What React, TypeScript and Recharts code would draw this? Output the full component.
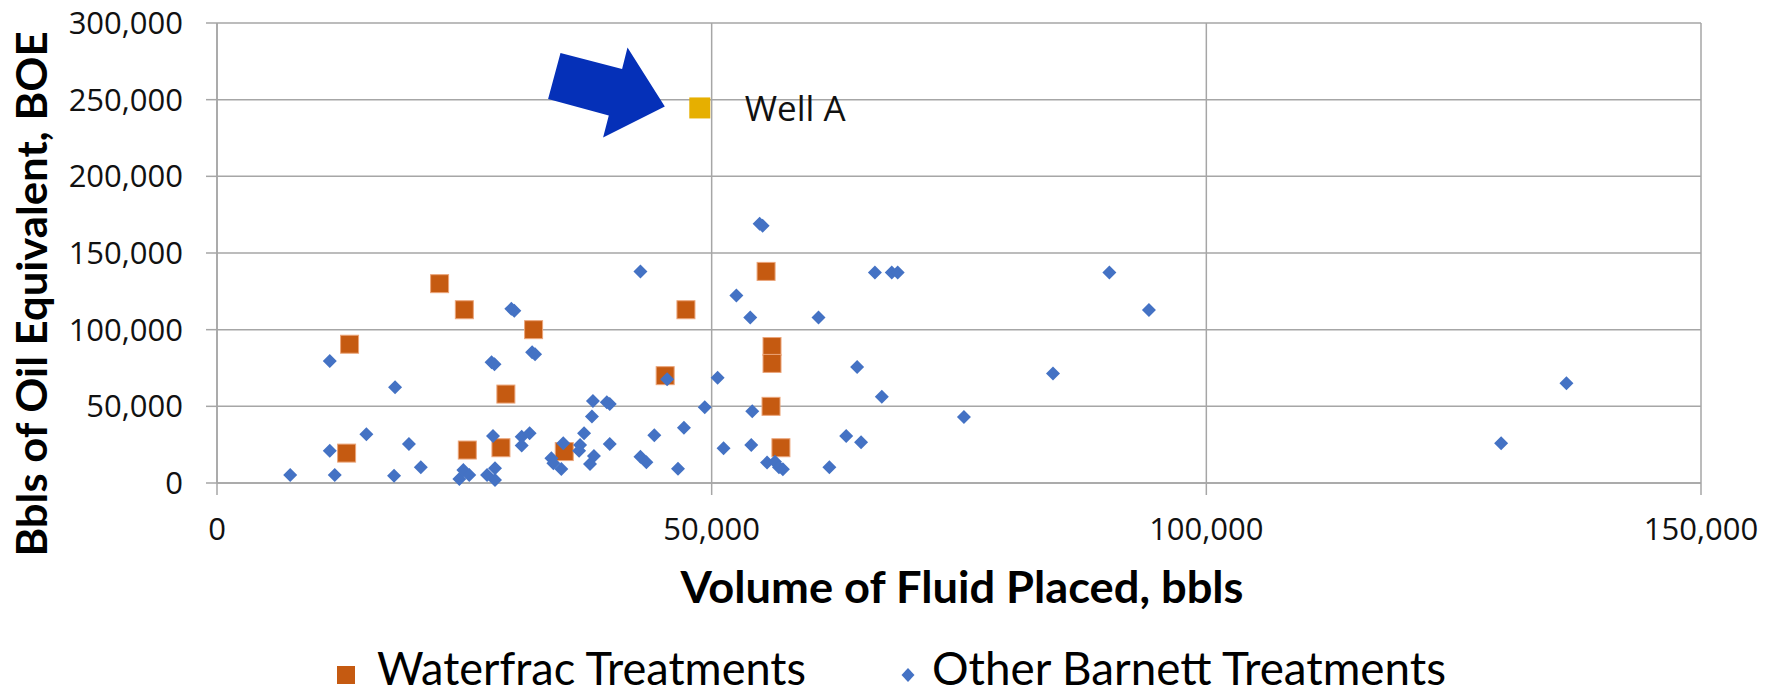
import React from "react"
import {
  ScatterChart,
  Scatter,
  XAxis,
  YAxis,
  CartesianGrid,
  Legend,
} from "recharts"

// values: [fluid volume bbls, BOE]
const waterfrac: [number, number][] = [
  [13400, 90500], [13100, 19500], [22500, 130000], [25000, 113000],
  [25300, 21500], [32000, 100000], [29200, 58000], [28700, 23000],
  [35100, 20500], [45300, 70000], [47400, 113000], [55500, 138000],
  [56100, 89000], [56100, 78000], [56000, 50000], [57000, 23000],
]

const otherBarnett: [number, number][] = [
  [7400, 5200], [11400, 79600], [11400, 21000], [11900, 5200],
  [15100, 31800], [18000, 62500], [17900, 4800], [19400, 25500],
  [20600, 10200], [24500, 2600], [24900, 8500], [25500, 5200],
  [27300, 5200], [28100, 9600], [28100, 2000], [27900, 30700],
  [27750, 78800], [28050, 77500], [29750, 113600], [30050, 112300],
  [31850, 85300], [32150, 84000], [30800, 30200], [31600, 32400],
  [30800, 24400], [33800, 16100], [34000, 12800], [34800, 9100],
  [35000, 25900], [36700, 24800], [36600, 21100], [37100, 32400],
  [38000, 53500], [37900, 43300], [38100, 17600], [37700, 12400],
  [39400, 52700], [39700, 51600], [39700, 25500], [42800, 138000],
  [42800, 17200], [43400, 13500], [44200, 31100], [45500, 67700],
  [47200, 36100], [46600, 9300], [49300, 49400], [50600, 68700],
  [51200, 22600], [54850, 169000], [55150, 167700], [52500, 122300],
  [53900, 107900], [60800, 107900], [66500, 137300], [68200, 137300],
  [68800, 137300], [90200, 137300], [94200, 112900], [64700, 75700],
  [84500, 71400], [67200, 56300], [54100, 46800], [75500, 43100],
  [54000, 24800], [63600, 30700], [65100, 26600], [55600, 13300],
  [56400, 13900], [56800, 10200], [57200, 8900], [61900, 10200],
  [136400, 65100], [129800, 25900],
]

const wellA: [number, number][] = [[48800, 244600]]

const xTicks = [0, 50000, 100000, 150000]
const yTicks = [0, 50000, 100000, 150000, 200000, 250000, 300000]

const toRows = (pts: [number, number][]) => pts.map(([x, y]) => ({ x, y }))

const ORANGE = "#C55A11"
const BLUE = "#4472C4"
const GOLD = "#E6AF00"
const GRID = "#a6a6a6"
const fmt = (v: number) => v.toLocaleString("en-US")

const SquareShape = (props: any) => {
  const { cx, cy } = props
  if (cx == null || cy == null) return null
  return (
    <rect x={cx - 9} y={cy - 9} width={18} height={18} fill={ORANGE} stroke="#EBA57A" strokeWidth={1} />
  )
}

const DiamondShape = (props: any) => {
  const { cx, cy } = props
  if (cx == null || cy == null) return null
  const r = 7
  return (
    <polygon
      points={`${cx},${cy - r} ${cx + r},${cy} ${cx},${cy + r} ${cx - r},${cy}`}
      fill={BLUE}
    />
  )
}

const WellAShape = (props: any) => {
  const { cx, cy } = props
  if (cx == null || cy == null) return null
  const arrow = [
    [-139.3, -54.9], [-77.7, -38.9], [-72.3, -60.5], [-35, -1.5],
    [-96.7, 29.5], [-91, 7.5], [-151.7, -8.9],
  ]
    .map(([dx, dy]) => `${cx + dx},${cy + dy}`)
    .join(" ")
  return (
    <g>
      <polygon points={arrow} fill="#0530B8" />
      <rect x={cx - 10.5} y={cy - 10.5} width={21} height={21} fill={GOLD} />
      <text x={cx + 45} y={cy + 13.5} fontFamily="Open Sans" fontSize={35} fill="#111">
        Well A
      </text>
    </g>
  )
}

const XTitle = (props: any) => {
  const vb = props.viewBox || {}
  return (
    <text
      x={vb.x + vb.width / 2 + 3}
      y={vb.y + 120}
      textAnchor="middle"
      fontFamily="Lato"
      fontWeight="bold"
      fontSize={44}
      textLength={563}
      lengthAdjust="spacingAndGlyphs"
      fill="#000"
    >
      Volume of Fluid Placed, bbls
    </text>
  )
}

const YTitle = (props: any) => {
  const vb = props.viewBox || {}
  const x = vb.x + 47
  const y = vb.y + vb.height / 2 + 41
  return (
    <text
      x={x}
      y={y}
      transform={`rotate(-90, ${x}, ${y})`}
      textAnchor="middle"
      fontFamily="Lato"
      fontWeight="bold"
      fontSize={42}
      textLength={525}
      lengthAdjust="spacingAndGlyphs"
      fill="#000"
    >
      Bbls of Oil Equivalent, BOE
    </text>
  )
}

const LegendBox = () => (
  <div style={{ width: 1781, height: 81 }}>
    <svg width={1781} height={81}>
      <rect x={337} y={53} width={18} height={18} fill={ORANGE} />
      <text x={377} y={72} fontFamily="Lato" fontSize={46} textLength={429} lengthAdjust="spacingAndGlyphs" fill="#000">
        Waterfrac Treatments
      </text>
      <polygon points="908,55 914.5,62 908,69 901.5,62" fill={BLUE} />
      <text x={932} y={72} fontFamily="Lato" fontSize={46} textLength={514} lengthAdjust="spacingAndGlyphs" fill="#000">
        Other Barnett Treatments
      </text>
    </svg>
  </div>
)

const tickStyle = { fontFamily: "Open Sans", fontSize: 31, fill: "#111" }

export default function App() {
  return (
    <div style={{ position: "absolute", left: 0, top: 0, background: "#fff" }}>
      <ScatterChart
        width={1781}
        height={694}
        margin={{ top: 23, right: 80, bottom: 0, left: 0 }}
      >
        <CartesianGrid stroke={GRID} strokeWidth={1.5} />
        <XAxis
          type="number"
          dataKey="x"
          domain={[0, 150000]}
          ticks={xTicks}
          tickFormatter={fmt}
          height={130}
          tickSize={12}
          tickMargin={23}
          tick={tickStyle}
          stroke={GRID}
          strokeWidth={1.5}
          label={XTitle}
        />
        <YAxis
          type="number"
          dataKey="y"
          domain={[0, 300000]}
          ticks={yTicks}
          tickFormatter={fmt}
          width={217}
          tickSize={11}
          tickMargin={23}
          tick={tickStyle}
          stroke={GRID}
          strokeWidth={1.5}
          label={YTitle}
        />
        <Legend verticalAlign="bottom" content={LegendBox} wrapperStyle={{ left: 0, bottom: 0, width: 1781, height: 81 }} />
        <Scatter name="Waterfrac Treatments" data={toRows(waterfrac)} shape={SquareShape} isAnimationActive={false} />
        <Scatter name="Other Barnett Treatments" data={toRows(otherBarnett)} shape={DiamondShape} isAnimationActive={false} />
        <Scatter name="Well A" data={toRows(wellA)} shape={WellAShape} isAnimationActive={false} legendType="none" />
      </ScatterChart>
    </div>
  )
}
